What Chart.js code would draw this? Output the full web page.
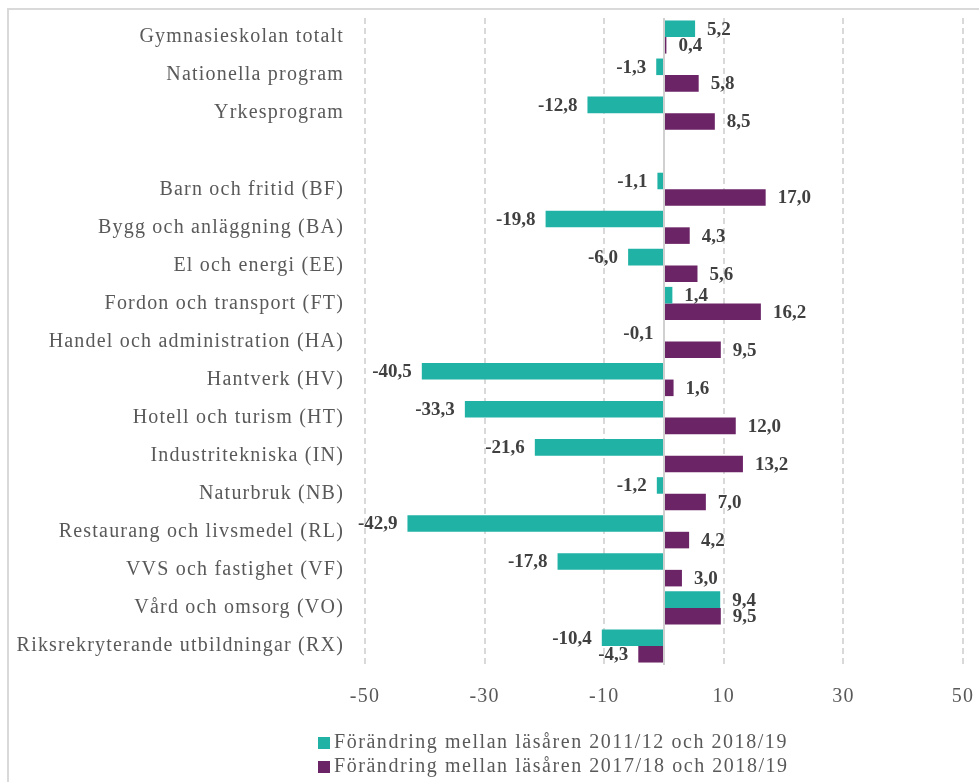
<!DOCTYPE html>
<html>
<head>
<meta charset="utf-8">
<script src="https://cdn.jsdelivr.net/npm/chart.js@4.4.1/dist/chart.umd.min.js"></script>
<style>
  html, body { margin: 0; padding: 0; background: #ffffff; }
  #wrap { position: relative; width: 979px; height: 782px; }
</style>
</head>
<body>
<div id="wrap"><canvas id="c" width="979" height="782"></canvas></div>
<script>
// ---- Data ----
const categories = [
  "Gymnasieskolan totalt",
  "Nationella program",
  "Yrkesprogram",
  "",
  "Barn och fritid (BF)",
  "Bygg och anläggning (BA)",
  "El och energi (EE)",
  "Fordon och transport (FT)",
  "Handel och administration (HA)",
  "Hantverk (HV)",
  "Hotell och turism (HT)",
  "Industritekniska (IN)",
  "Naturbruk (NB)",
  "Restaurang och livsmedel (RL)",
  "VVS och fastighet (VF)",
  "Vård och omsorg (VO)",
  "Riksrekryterande utbildningar (RX)"
];
const change2011to2019 = [5.2, -1.3, -12.8, null, -1.1, -19.8, -6.0, 1.4, -0.1, -40.5, -33.3, -21.6, -1.2, -42.9, -17.8, 9.4, -10.4];
const change2018to2019 = [0.4, 5.8, 8.5, null, 17.0, 4.3, 5.6, 16.2, 9.5, 1.6, 12.0, 13.2, 7.0, 4.2, 3.0, 9.5, -4.3];
const seriesNames = [
  "Förändring mellan läsåren 2011/12 och 2018/19",
  "Förändring mellan läsåren 2017/18 och 2018/19"
];
const xTickValues = [-50, -30, -10, 10, 30, 50];

// ---- Styles ----
const FONT = "'Liberation Serif', 'DejaVu Serif', serif";
const TEAL = "#21B2A6";
const PURPLE = "#6B2466";
const CLEAR = "rgba(0,0,0,0)";

const frameAndZero = {
  id: "frameAndZero",
  beforeLayout(chart) { chart.ctx.letterSpacing = "1.2px"; },
  beforeDraw(chart) {
    const ctx = chart.ctx;
    ctx.letterSpacing = "1.2px";
    ctx.save();
    ctx.strokeStyle = "#D9D9D9";
    ctx.lineWidth = 2;
    ctx.strokeRect(8, 9, 1000, 1000);
    ctx.restore();
  },
  afterDatasetsDraw(chart) {
    const ctx = chart.ctx;
    const x = chart.scales.x.getPixelForValue(0);
    const area = chart.chartArea;
    ctx.save();
    ctx.strokeStyle = "#D0D0D0";
    ctx.lineWidth = 2;
    ctx.beginPath();
    ctx.moveTo(x, area.top);
    ctx.lineTo(x, area.bottom);
    ctx.stroke();
    ctx.restore();
  }
};

const valueLabels = {
  id: "valueLabels",
  afterDatasetsDraw(chart) {
    const ctx = chart.ctx;
    ctx.save();
    ctx.letterSpacing = "0px";
    ctx.font = "bold 19px " + FONT;
    ctx.fillStyle = "#404040";
    ctx.textBaseline = "middle";
    chart.data.datasets.forEach((ds, di) => {
      const meta = chart.getDatasetMeta(di);
      meta.data.forEach((bar, i) => {
        const v = ds.data[i];
        if (v === null || v === undefined) return;
        const txt = v.toFixed(1).replace(".", ",");
        if (v >= 0) {
          ctx.textAlign = "left";
          ctx.fillText(txt, bar.x + 12, bar.y + 1);
        } else {
          ctx.textAlign = "right";
          ctx.fillText(txt, bar.x - 10, bar.y + 1);
        }
      });
    });
    ctx.restore();
  }
};

const stackedLegend = {
  id: "stackedLegend",
  afterDraw(chart) {
    const ctx = chart.ctx;
    ctx.save();
    ctx.letterSpacing = "1.55px";
    ctx.font = "20px " + FONT;
    ctx.textBaseline = "middle";
    ctx.textAlign = "left";
    chart.data.datasets.forEach((ds, i) => {
      const y = 743 + i * 24;
      ctx.fillStyle = ds.backgroundColor;
      ctx.fillRect(318, y - 6, 12, 12);
      ctx.fillStyle = "#595959";
      ctx.fillText(ds.label, 334, y);
    });
    ctx.restore();
  }
};

new Chart(document.getElementById("c"), {
  type: "bar",
  data: {
    labels: categories,
    datasets: [
      { label: seriesNames[0], data: change2011to2019, backgroundColor: TEAL, borderWidth: 0 },
      { label: seriesNames[1], data: change2018to2019, backgroundColor: PURPLE, borderWidth: 0 }
    ]
  },
  options: {
    indexAxis: "y",
    responsive: false,
    animation: false,
    devicePixelRatio: 1,
    categoryPercentage: 0.87,
    barPercentage: 1.0,
    layout: { padding: { top: 18, right: 16, bottom: 73, left: 0 } },
    plugins: {
      legend: { display: false },
      tooltip: { enabled: false }
    },
    scales: {
      x: {
        min: -50,
        max: 50,
        afterBuildTicks(scale) { scale.ticks = xTickValues.map(v => ({ value: v })); },
        grid: { color: "#D9D9D9", lineWidth: 2, drawTicks: true, tickLength: 20, tickColor: CLEAR },
        border: { display: false, dash: [6, 4] },
        ticks: {
          color: "#595959",
          font: { family: FONT, size: 20 },
          padding: 0,
          maxRotation: 0,
          callback: v => String(v)
        }
      },
      y: {
        grid: { display: true, drawOnChartArea: false, drawTicks: true, tickLength: 21, tickColor: CLEAR, color: CLEAR },
        border: { display: false },
        afterFit(scale) { scale.width = 365; },
        ticks: {
          color: "#595959",
          font: { family: FONT, size: 20 },
          padding: 0,
          autoSkip: false
        }
      }
    }
  },
  plugins: [frameAndZero, valueLabels, stackedLegend]
});
</script>
</body>
</html>
